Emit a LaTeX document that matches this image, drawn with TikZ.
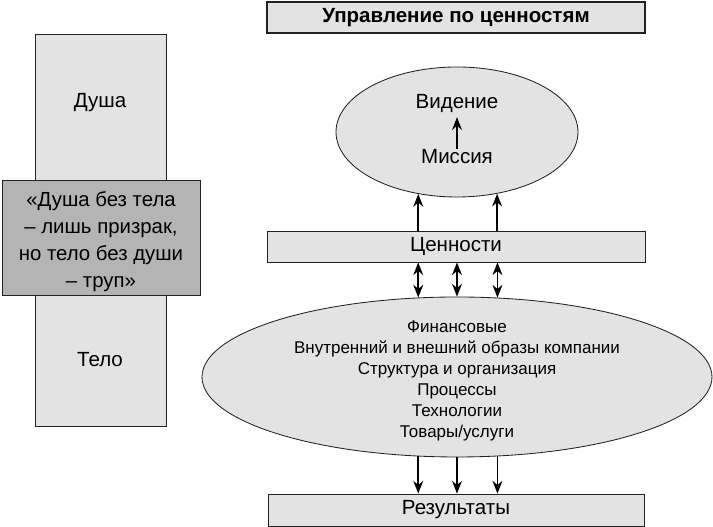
\documentclass[tikz,border=0pt]{standalone}
\usepackage{fontspec}
\setmainfont{Liberation Sans}
\usetikzlibrary{arrows.meta,shapes.geometric}
\usepackage{xcolor}
\definecolor{boxgray}{RGB}{227,227,227}
\definecolor{quotegray}{RGB}{180,180,180}
\definecolor{linegray}{RGB}{34,34,34}

\begin{document}
\begin{tikzpicture}[->,>={Stealth[length=9pt,width=7pt]},semithick]
  \tikzstyle{every node}=[font=\fontsize{14.6}{17}\selectfont]
  \tikzstyle{bar}=[draw=linegray,fill=boxgray,rectangle,minimum width=9.45cm,minimum height=0.775cm,inner sep=0pt]
  \tikzstyle{oval}=[draw=linegray,fill=boxgray,ellipse,inner sep=0pt]
  \tikzstyle{conn}=[line width=1.3pt]

  \useasboundingbox (0,0) rectangle (17.825,13.175);

  % left column
  \node[draw=linegray,fill=boxgray,minimum width=3.275cm,minimum height=9.8cm] (col) at (2.5125,7.425) {};
  \node (dusha) at (2.5,10.6) {Душа};
  \node (telo)  at (2.5,4.175) {Тело};
  \node[draw=linegray,fill=quotegray,minimum width=4.95cm,minimum height=2.875cm] (quote) at (2.525,7.2375) {};
  \node[align=center,font=\fontsize{14.5}{19.3}\selectfont] (words) at (2.525,7.14)
        {«Душа без тела\\– лишь призрак,\\но тело без души\\– труп»};

  % right column
  \node[bar,line width=1.6pt,font=\bfseries\fontsize{14.6}{17}\selectfont] (title) at (11.4,12.7375) {Управление по ценностям};
  \node[oval,minimum width=6.05cm,minimum height=3.25cm] (top) at (11.425,9.875) {};
  \node (vid) at (11.425,10.6) {Видение};
  \node (mis) at (11.425,9.25) {Миссия};
  \node[bar] (val) at (11.4,7.0125) {Ценности};
  \node[oval,minimum width=12.75cm,minimum height=4cm] (big) at (11.425,3.75) {};
  \node[align=center,font=\fontsize{12.1}{15}\selectfont] (areas) at (11.425,3.65)
        {Финансовые\\Внутренний и внешний образы компании\\Структура и организация\\Процессы\\Технологии\\Товары/услуги};
  \node[bar,minimum width=9.4cm,minimum height=0.8cm] (res) at (11.4,0.425) {Результаты};

  \path (mis.north) edge[conn,shorten <=-3pt] (vid.south);
  \foreach \a in {-122.4,-57.6}
    \path (top.\a |- val.north) edge[conn] (top.\a);
  \foreach \a in {116.3,90,63.7}
    \path (big.\a |- val.south) edge[conn,<->] (big.\a);
  \foreach \a in {-116.3,-90,-63.7}
    \path (big.\a) edge[conn] (big.\a |- res.north);
\end{tikzpicture}
\end{document}
